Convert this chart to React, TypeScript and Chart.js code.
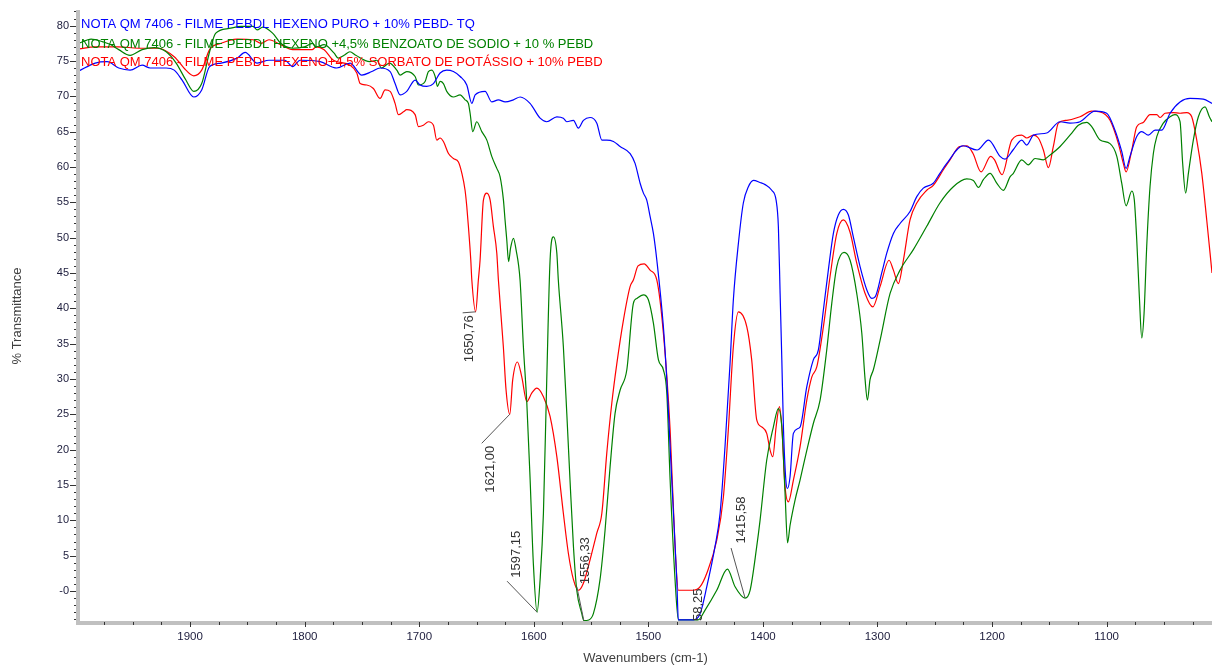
import { useEffect, useRef } from "react";
import { Chart, registerables } from "chart.js";

Chart.register(...registerables);

// ---- Spectra: wavenumber (cm-1) and % transmittance for each film ----
const puroWavenumbers = [
  1996.9, 1982.9, 1972.4, 1962.3, 1952.4, 1941.9, 1934.9, 1920.9, 1913.9, 1907.0,
  1896.8, 1889.9, 1883.0, 1872.9, 1859.0, 1852.0, 1841.5, 1831.2, 1817.4, 1810.5,
  1804.0, 1786.5, 1772.0, 1760.4, 1750.1, 1741.4, 1734.2, 1725.4, 1721.1, 1716.7,
  1710.9, 1703.6, 1699.3, 1693.4, 1687.6, 1681.8, 1676.0, 1670.2, 1664.3, 1658.5,
  1654.1, 1651.2, 1642.5, 1636.7, 1630.9, 1625.0, 1617.8, 1611.9, 1603.3, 1594.5,
  1588.7, 1579.9, 1574.2, 1571.2, 1565.4, 1561.1, 1556.7, 1550.9, 1545.0, 1540.6,
  1536.3, 1530.5, 1524.7, 1515.9, 1511.6, 1507.2, 1504.3, 1501.4, 1498.5, 1495.6,
  1492.6, 1486.9, 1483.9, 1481.0, 1478.1, 1475.2, 1473.8, 1460.7, 1454.8, 1449.0,
  1441.8, 1437.4, 1433.1, 1428.7, 1425.8, 1421.4, 1417.1, 1412.7, 1408.3, 1402.5,
  1398.1, 1392.3, 1388.5, 1386.5, 1385.0, 1383.5, 1382.1, 1380.0, 1378.6, 1376.3,
  1373.4, 1367.6, 1361.7, 1356.0, 1351.6, 1347.2, 1342.9, 1338.5, 1334.2, 1329.8,
  1325.4, 1321.1, 1315.2, 1309.3, 1305.0, 1302.1, 1296.3, 1291.9, 1286.1, 1280.3,
  1271.6, 1265.7, 1260.0, 1251.3, 1245.5, 1239.5, 1225.3, 1213.1, 1203.1, 1193.0,
  1188.7, 1181.7, 1174.1, 1169.7, 1163.9, 1152.3, 1140.6, 1131.9, 1123.2, 1110.1,
  1099.9, 1092.7, 1086.8, 1083.0, 1079.6, 1073.7, 1069.3, 1063.6, 1057.7, 1051.9,
  1044.6, 1035.9, 1027.2, 1015.6, 1008.0,
];
const puroTransmittance = [
  73.6, 74.7, 74.9, 74.0, 73.7, 74.4, 74.0, 74.0, 73.7, 72.3,
  69.9, 70.9, 74.2, 74.7, 75.4, 76.2, 74.7, 75.1, 75.1, 74.2,
  75.1, 74.9, 74.0, 74.7, 73.0, 73.5, 74.0, 73.5, 71.8, 70.2,
  70.7, 72.3, 71.6, 71.4, 71.8, 73.3, 73.7, 73.5, 72.8, 71.6,
  69.0, 70.2, 70.7, 69.2, 69.5, 69.2, 69.5, 69.9, 69.0, 66.9,
  66.4, 67.1, 66.9, 66.4, 66.6, 65.5, 66.6, 67.0, 66.2, 63.8,
  63.8, 63.6, 62.9, 61.9, 60.5, 57.7, 56.3, 55.3, 53.0, 50.6,
  46.8, 37.4, 29.9, 20.4, 11.0, 1.6, -4.1, -4.1, -3.2, 0.6,
  6.3, 11.0, 20.4, 32.2, 41.2, 49.2, 54.9, 57.2, 58.1, 57.8,
  57.5, 56.7, 55.3, 51.5, 42.1, 32.7, 23.2, 15.7, 14.5, 16.2,
  22.3, 23.2, 28.9, 32.7, 34.1, 39.8, 45.4, 50.6, 53.2, 54.0,
  53.2, 50.1, 45.9, 42.6, 41.4, 41.6, 45.0, 47.8, 50.6, 52.0,
  53.7, 55.8, 57.0, 57.7, 59.1, 60.5, 63.0, 62.4, 63.8, 61.5,
  61.1, 62.4, 63.8, 63.1, 64.5, 64.8, 66.4, 66.2, 66.4, 67.9,
  67.6, 65.2, 62.2, 59.8, 61.5, 64.3, 65.0, 64.5, 65.2, 65.2,
  67.6, 69.2, 69.7, 69.6, 69.0,
];

const benzoatoWavenumbers = [
  1996.9, 1986.4, 1976.1, 1969.2, 1962.3, 1952.4, 1941.9, 1931.4, 1920.9, 1912.2,
  1903.7, 1896.8, 1889.9, 1883.0, 1877.8, 1866.0, 1855.5, 1845.0, 1841.5, 1836.5,
  1827.8, 1820.9, 1810.5, 1800.2, 1793.3, 1789.8, 1783.0, 1774.3, 1770.8, 1765.6,
  1760.5, 1755.4, 1743.2, 1737.0, 1733.0, 1726.0, 1719.6, 1716.7, 1710.9, 1703.6,
  1700.7, 1694.9, 1692.0, 1689.0, 1686.1, 1684.1, 1681.8, 1678.9, 1676.0, 1670.2,
  1664.3, 1660.0, 1657.1, 1655.6, 1653.3, 1649.8, 1645.4, 1641.0, 1636.7, 1632.3,
  1629.4, 1626.5, 1625.1, 1623.6, 1622.0, 1620.3, 1617.8, 1615.5, 1612.0, 1609.1,
  1606.1, 1603.2, 1600.4, 1597.15, 1594.5, 1591.6, 1588.7, 1585.8, 1582.9, 1579.9,
  1578.6, 1574.2, 1571.2, 1568.4, 1565.4, 1562.5, 1558.1, 1556.33, 1552.0, 1548.0,
  1542.2, 1537.8, 1533.4, 1529.1, 1524.7, 1518.8, 1513.1, 1510.1, 1504.3, 1500.0,
  1495.6, 1491.2, 1486.9, 1483.9, 1481.0, 1476.7, 1473.8, 1456.6, 1450.5, 1440.3,
  1431.0, 1424.3, 1415.58, 1411.2, 1405.4, 1402.5, 1396.7, 1390.9, 1386.5, 1383.5,
  1380.7, 1378.5, 1376.3, 1371.9, 1367.6, 1361.7, 1356.0, 1350.1, 1344.3, 1339.9,
  1335.5, 1329.2, 1323.9, 1318.1, 1313.7, 1310.8, 1308.8, 1306.5, 1303.6, 1297.7,
  1289.0, 1280.3, 1268.7, 1257.0, 1245.5, 1233.8, 1222.1, 1216.3, 1211.9, 1207.6,
  1201.7, 1195.9, 1190.1, 1184.3, 1181.4, 1174.1, 1168.3, 1162.5, 1155.2, 1150.8,
  1140.6, 1130.4, 1124.7, 1117.3, 1113.0, 1105.7, 1097.0, 1091.1, 1086.8, 1083.0,
  1078.0, 1075.8, 1073.7, 1071.4, 1069.3, 1067.3, 1065.0, 1062.1, 1059.2, 1056.2,
  1050.5, 1044.6, 1040.3, 1035.9, 1033.6, 1031.0, 1028.6, 1024.3, 1019.9, 1014.1,
  1010.3, 1008.0,
];
const benzoatoTransmittance = [
  77.5, 78.1, 77.7, 77.3, 76.6, 75.8, 76.6, 76.9, 76.3, 74.7,
  72.3, 70.7, 71.8, 76.3, 78.9, 79.6, 79.9, 79.9, 79.4, 79.8,
  78.9, 77.5, 76.8, 77.0, 77.5, 77.0, 77.3, 76.1, 75.4, 75.8,
  76.3, 75.8, 74.9, 75.1, 74.0, 74.7, 73.7, 73.0, 73.5, 72.8,
  71.6, 72.1, 73.5, 73.7, 72.8, 71.4, 72.1, 71.8, 70.7, 69.9,
  70.2, 69.5, 69.0, 67.6, 65.0, 66.4, 65.0, 63.8, 61.5, 59.8,
  58.6, 55.3, 52.5, 49.7, 46.6, 48.5, 49.9, 48.3, 44.0, 34.6,
  26.6, 15.7, 3.9, -3.0, 1.6, 11.0, 29.9, 46.8, 50.1, 47.8,
  44.0, 34.6, 25.1, 15.7, 6.3, 0.1, -3.2, -4.2, -4.1, -3.2,
  1.6, 8.6, 17.6, 25.1, 28.4, 31.3, 40.7, 41.4, 41.9, 41.2,
  37.9, 32.7, 31.3, 28.0, 15.7, 1.6, -4.1, -4.1, -2.7, 0.1,
  3.1, 0.6, -1.0, 0.1, 6.3, 10.0, 18.5, 23.2, 25.8, 23.2,
  13.9, 6.8, 9.3, 12.9, 15.7, 19.9, 23.7, 27.0, 34.1, 40.7,
  45.9, 47.9, 46.8, 42.1, 36.5, 29.9, 27.0, 29.9, 31.3, 35.5,
  42.1, 45.4, 48.3, 51.6, 54.9, 57.2, 58.3, 58.1, 57.1, 58.2,
  59.1, 57.7, 56.7, 58.6, 59.1, 61.0, 60.3, 61.2, 61.0, 61.5,
  62.9, 64.8, 65.9, 66.3, 65.7, 63.8, 63.3, 61.5, 57.7, 54.5,
  56.6, 55.3, 49.7, 41.6, 35.8, 39.3, 48.7, 57.2, 61.9, 64.3,
  66.2, 67.1, 67.4, 66.4, 60.5, 56.3, 59.1, 63.8, 67.1, 68.5,
  67.1, 66.4,
];

const sorbatoWavenumbers = [
  1996.9, 1983.0, 1962.3, 1945.1, 1927.9, 1913.9, 1903.7, 1896.8, 1889.9, 1883.0,
  1872.9, 1859.0, 1845.0, 1838.0, 1831.2, 1820.9, 1810.5, 1793.5, 1790.0, 1783.0,
  1774.9, 1760.3, 1754.5, 1751.6, 1745.8, 1740.0, 1734.2, 1729.8, 1725.4, 1721.1,
  1718.2, 1713.8, 1710.9, 1703.6, 1700.7, 1696.4, 1692.0, 1687.6, 1684.7, 1681.8,
  1678.9, 1674.5, 1670.2, 1665.8, 1662.8, 1660.0, 1658.5, 1657.1, 1655.0, 1654.1,
  1650.76, 1648.4, 1646.9, 1644.0, 1641.0, 1638.1, 1635.3, 1632.3, 1630.9, 1626.6,
  1624.2, 1621.0, 1618.4, 1614.3, 1610.5, 1606.1, 1601.8, 1597.4, 1591.6, 1585.8,
  1579.9, 1574.2, 1569.8, 1565.4, 1561.1, 1556.7, 1550.9, 1545.0, 1540.6, 1536.3,
  1531.9, 1527.5, 1521.8, 1515.9, 1513.1, 1509.0, 1503.7, 1498.5, 1492.6, 1486.9,
  1481.0, 1476.7, 1473.8, 1460.7, 1454.8, 1449.0, 1440.3, 1434.5, 1430.2, 1425.8,
  1421.4, 1414.1, 1409.8, 1405.4, 1401.0, 1396.7, 1393.7, 1391.4, 1388.5, 1385.6,
  1383.5, 1380.7, 1377.8, 1373.4, 1367.6, 1361.7, 1357.3, 1353.0, 1347.2, 1341.4,
  1335.5, 1329.8, 1324.0, 1318.1, 1310.8, 1304.1, 1297.7, 1289.9, 1286.1, 1281.8,
  1277.4, 1271.6, 1265.7, 1257.0, 1251.3, 1242.5, 1236.7, 1228.4, 1221.8, 1216.6,
  1209.6, 1201.2, 1197.8, 1191.3, 1182.8, 1174.1, 1169.7, 1163.9, 1159.6, 1155.2,
  1150.8, 1146.5, 1142.1, 1134.8, 1123.2, 1113.0, 1105.7, 1097.0, 1089.7, 1085.4,
  1083.0, 1078.0, 1073.7, 1068.0, 1062.1, 1056.2, 1053.3, 1049.0, 1041.7, 1035.9,
  1030.0, 1025.7, 1021.3, 1016.9, 1012.6, 1009.7, 1008.0,
];
const sorbatoTransmittance = [
  76.7, 77.0, 77.0, 76.8, 76.8, 75.6, 73.7, 72.9, 73.7, 76.6,
  77.5, 78.1, 78.0, 77.5, 78.0, 77.3, 76.6, 76.6, 77.0, 76.6,
  75.1, 74.4, 73.3, 71.8, 71.6, 71.1, 69.7, 70.9, 70.7, 69.0,
  67.4, 67.8, 68.1, 67.4, 65.7, 65.9, 66.4, 65.9, 63.8, 64.1,
  63.6, 61.9, 61.2, 60.7, 59.1, 56.7, 54.4, 51.6, 46.8, 44.0,
  39.5, 44.0, 46.8, 55.3, 56.3, 55.3, 51.6, 47.8, 44.0, 34.6,
  28.4, 25.0, 29.9, 32.4, 30.3, 26.8, 28.0, 28.7, 27.5, 24.7,
  19.0, 11.0, 5.3, 1.6, 0.1, 1.1, 4.4, 8.2, 11.0, 19.5,
  26.6, 32.2, 38.3, 43.1, 44.0, 46.0, 46.3, 45.4, 44.0, 36.5,
  22.8, 6.3, 0.1, 0.1, 0.6, 2.5, 7.2, 13.3, 22.8, 34.6,
  39.5, 37.4, 32.7, 24.2, 23.2, 22.3, 19.9, 19.0, 23.2, 26.1,
  23.2, 14.8, 12.6, 15.7, 20.4, 27.0, 30.3, 31.7, 37.4, 44.5,
  50.6, 52.5, 50.8, 46.4, 42.1, 40.2, 43.1, 46.8, 45.4, 43.5,
  46.8, 52.5, 54.9, 56.7, 57.4, 59.6, 61.0, 62.9, 63.0, 61.9,
  59.3, 61.5, 61.0, 58.9, 63.8, 64.5, 64.1, 64.5, 64.1, 62.4,
  59.9, 62.9, 66.2, 66.6, 67.1, 67.9, 67.8, 66.6, 63.3, 60.5,
  59.3, 62.4, 65.7, 66.3, 67.4, 67.4, 67.0, 67.6, 67.7, 67.6,
  67.7, 67.1, 63.8, 59.1, 52.5, 47.8, 45.0,
];

const seriesNames = [
  "NOTA QM 7406 - FILME PEBDL HEXENO PURO + 10% PEBD- TQ",
  "NOTA QM 7406 - FILME PEBDL HEXENO +4,5% BENZOATO DE SODIO + 10 % PEBD",
  "NOTA QM 7406 - FILME PEBDL HEXENO+4,5% SORBATO DE POTÁSSIO + 10% PEBD",
];
const seriesColors = ["#0000ff", "#008000", "#ff0000"];

// Picked peaks (cm-1) and the %T at each peak
const peakWavenumbers = [1650.76, 1621.0, 1597.15, 1556.33, 1458.25, 1415.58];
const peakTransmittance = [39.5, 25.0, -3.0, -4.2, -4.1, -1.0];

// Axis extents
const wavenumberLeft = 1997;
const wavenumberRight = 1008;
const transmittanceMin = -4.39;
const transmittanceMax = 82.21;

// Placement of each peak label (pixel offsets from the peak: text centre, leader start)
const peakLabelLayout: { text: [number, number]; leader: [number, number] | null }[] = [
  { text: [-6.5, 27], leader: [-13, 1] },
  { text: [-19.6, 55], leader: [-28, 29] },
  { text: [-21, -58], leader: [-30, -31] },
  { text: [2, -60], leader: [-7, -34] },
  { text: [2, -8], leader: null },
  { text: [-4, -78], leader: [-14, -50] },
];

const FONT = '"Liberation Sans", Arial, Helvetica, sans-serif';

const toPoints = (xs: number[], ys: number[]) =>
  xs.map((x, i) => ({ x, y: ys[i] }));

const formatPeak = (w: number) => w.toFixed(2).replace(".", ",");

const spectrumDecor = {
  id: "spectrumDecor",
  afterDatasetsDraw(chart: any) {
    const { ctx, chartArea, scales } = chart;
    const xs = scales.x;
    const ys = scales.y;
    const { left, right, top, bottom } = chartArea;

    // peak labels with leader lines, kept inside the plot area
    ctx.save();
    ctx.beginPath();
    ctx.rect(left, top, right - left, bottom - top);
    ctx.clip();
    ctx.font = `13px ${FONT}`;
    ctx.fillStyle = "#333333";
    ctx.strokeStyle = "#555555";
    ctx.lineWidth = 1;
    peakWavenumbers.forEach((w, i) => {
      const px = xs.getPixelForValue(w);
      const py = ys.getPixelForValue(peakTransmittance[i]);
      const lay = peakLabelLayout[i];
      if (lay.leader) {
        ctx.beginPath();
        ctx.moveTo(px + lay.leader[0], py + lay.leader[1]);
        ctx.lineTo(px, py);
        ctx.stroke();
      }
      ctx.save();
      ctx.translate(px + lay.text[0], py + lay.text[1]);
      ctx.rotate(-Math.PI / 2);
      ctx.textAlign = "center";
      ctx.textBaseline = "middle";
      ctx.fillText(formatPeak(w), 0, 0);
      ctx.restore();
    });
    ctx.restore();

    // sample titles in the top-left corner
    ctx.save();
    ctx.font = `13px ${FONT}`;
    ctx.textAlign = "left";
    ctx.textBaseline = "alphabetic";
    const baselines = [28, 47.5, 66];
    seriesNames.forEach((name, i) => {
      ctx.fillStyle = seriesColors[i];
      ctx.fillText(name, left + 2, baselines[i]);
    });
    ctx.restore();

    // axis bars
    ctx.save();
    ctx.fillStyle = "#c0c0c0";
    ctx.fillRect(left - 3, top, 4, bottom - top + 3);
    ctx.fillRect(left - 3, bottom - 1, right - left + 3, 4);

    // tick marks
    ctx.strokeStyle = "#333333";
    ctx.lineWidth = 1;
    ctx.beginPath();
    for (let v = Math.ceil(transmittanceMin); v <= Math.floor(transmittanceMax); v += 1) {
      const py = Math.round(ys.getPixelForValue(v)) + 0.5;
      const len = v % 5 === 0 ? 6 : 2;
      ctx.moveTo(left - 3, py);
      ctx.lineTo(left - 3 - len, py);
    }
    for (let w = Math.ceil(wavenumberRight / 25) * 25; w <= wavenumberLeft; w += 25) {
      const px = Math.round(xs.getPixelForValue(w)) + 0.5;
      const len = w % 100 === 0 ? 5 : 3;
      ctx.moveTo(px, bottom);
      ctx.lineTo(px, bottom + len);
    }
    ctx.stroke();
    ctx.restore();
  },
};

export default function App() {
  const canvasRef = useRef<HTMLCanvasElement | null>(null);

  useEffect(() => {
    const canvas = canvasRef.current;
    if (!canvas) return;

    const spectra = [
      toPoints(puroWavenumbers, puroTransmittance),
      toPoints(benzoatoWavenumbers, benzoatoTransmittance),
      toPoints(sorbatoWavenumbers, sorbatoTransmittance),
    ];

    const chart = new Chart(canvas, {
      type: "line",
      data: {
        datasets: spectra.map((data, i) => ({
          label: seriesNames[i],
          data,
          borderColor: seriesColors[i],
          backgroundColor: seriesColors[i],
          borderWidth: 1.2,
          pointRadius: 0,
          cubicInterpolationMode: "monotone" as const,
          fill: false,
        })),
      },
      options: {
        responsive: false,
        animation: false,
        devicePixelRatio: 1,
        layout: { padding: { top: 10, right: 0, left: 0, bottom: 0 } },
        plugins: {
          legend: { display: false },
          tooltip: { enabled: false },
        },
        scales: {
          x: {
            type: "linear",
            reverse: true,
            min: wavenumberRight,
            max: wavenumberLeft,
            afterFit: (scale: any) => {
              scale.height = 44;
              scale.paddingLeft = 0;
              scale.paddingRight = 0;
            },
            grid: { display: false, drawTicks: false },
            border: { display: false },
            ticks: {
              stepSize: 25,
              autoSkip: false,
              includeBounds: false,
              maxRotation: 0,
              padding: 8,
              color: "#1c1c3c",
              font: { family: FONT, size: 11.5 },
              callback: (v: any) => {
                const n = Math.round(Number(v));
                return n % 100 === 0 ? String(n) : "";
              },
            },
            title: {
              display: true,
              text: "Wavenumbers (cm-1)",
              color: "#404040",
              font: { family: FONT, size: 13 },
              padding: { top: 0, bottom: 0 },
            },
          },
          y: {
            type: "linear",
            min: transmittanceMin,
            max: transmittanceMax,
            afterFit: (scale: any) => {
              scale.width = 79;
              scale.paddingTop = 0;
              scale.paddingBottom = 0;
            },
            grid: { display: false, drawTicks: false },
            border: { display: false },
            ticks: {
              stepSize: 1,
              autoSkip: false,
              includeBounds: false,
              padding: 10,
              color: "#1c1c3c",
              font: { family: FONT, size: 11 },
              callback: (v: any) => {
                const n = Math.round(Number(v));
                if (Math.abs(Number(v) - n) > 1e-6 || n % 5 !== 0) return "";
                return n === 0 ? "-0" : String(n);
              },
            },
            title: {
              display: true,
              text: "% Transmittance",
              color: "#404040",
              font: { family: FONT, size: 13 },
              padding: { top: 10, bottom: 0 },
            },
          },
        },
      },
      plugins: [spectrumDecor],
    });

    return () => chart.destroy();
  }, []);

  return (
    <div
      style={{
        position: "fixed",
        left: 0,
        top: 0,
        width: 1212,
        height: 666,
        background: "#ffffff",
      }}
    >
      <canvas
        ref={canvasRef}
        width={1212}
        height={666}
        style={{ display: "block", width: 1212, height: 666 }}
      />
    </div>
  );
}
